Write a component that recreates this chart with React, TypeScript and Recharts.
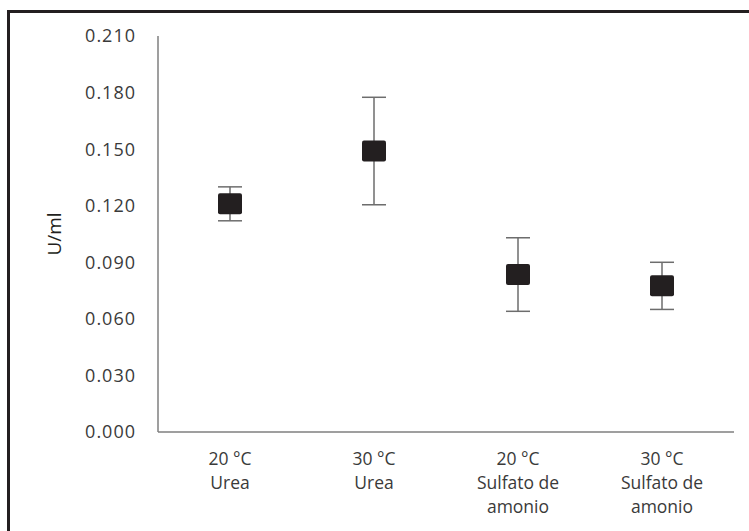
import { ScatterChart, Scatter, XAxis, YAxis, ErrorBar } from 'recharts';

const categories = ['20 °C\nUrea', '30 °C\nUrea', '20 °C\nSulfato de\namonio', '30 °C\nSulfato de\namonio'];
const means = [0.121, 0.149, 0.0835, 0.0775];
const errors = [0.009, 0.0285, 0.0195, 0.0125];
const yTicks = [0, 0.03, 0.06, 0.09, 0.12, 0.15, 0.18, 0.21];

const data = categories.map((name, i) => ({ name, value: means[i], err: errors[i] }));

const font = '"Open Sans", sans-serif';
const textColor = '#3a3a3a';

const SquareMarker = (props: any) => {
    const { cx, cy } = props;
    return <rect x={cx - 12} y={cy - 10.5} width={24} height={21} rx={2} fill="#231f20" />;
};

const CategoryTick = (props: any) => {
    const { x, y, payload } = props;
    const lines = String(payload.value).split('\n');
    return (
        <text x={x} y={y} textAnchor="middle" fill={textColor} fontFamily={font} fontSize={17.5}>
            {lines.map((line, i) => (
                <tspan key={i} x={x} dy={i === 0 ? 25 : 24}>
                    {line}
                </tspan>
            ))}
        </text>
    );
};

const App = () => {
    return (
        <div style={{ position: 'absolute', left: 0, top: 0, width: 749, height: 531, background: '#fff' }}>
            <div style={{ position: 'absolute', left: 7, top: 10, width: 742, height: 3, background: '#231f20' }} />
            <div style={{ position: 'absolute', left: 7, top: 10, width: 3, height: 521, background: '#231f20' }} />
            <ScatterChart width={749} height={531} margin={{ top: 36, right: 15, bottom: 69, left: 0 }}>
                <XAxis
                    dataKey="name"
                    type="category"
                    allowDuplicatedCategory={false}
                    axisLine={{ stroke: '#7f7f7f', strokeWidth: 1.5 }}
                    tickLine={false}
                    tick={<CategoryTick />}
                    interval={0}
                />
                <YAxis
                    dataKey="value"
                    type="number"
                    domain={[0, 0.21]}
                    ticks={yTicks}
                    width={158}
                    axisLine={{ stroke: '#7f7f7f', strokeWidth: 1.5 }}
                    tickLine={false}
                    tickMargin={16}
                    tickFormatter={(v: number) => v.toFixed(3)}
                    tick={{ fill: textColor, fontFamily: font, fontSize: 18, letterSpacing: 1 }}
                    label={{
                        content: () => (
                            <text
                                x={56}
                                y={234}
                                transform="rotate(-90 56 234)"
                                textAnchor="middle"
                                dominantBaseline="middle"
                                fill="#231f20"
                                fontFamily={font}
                                fontSize={19}
                            >
                                U/ml
                            </text>
                        ),
                    }}
                />
                <Scatter data={data} dataKey="value" shape={<SquareMarker />} isAnimationActive={false}>
                    <ErrorBar dataKey="err" direction="y" width={12} stroke="#6d6d6d" strokeWidth={1.5} />
                </Scatter>
            </ScatterChart>
        </div>
    );
};

export default App;
